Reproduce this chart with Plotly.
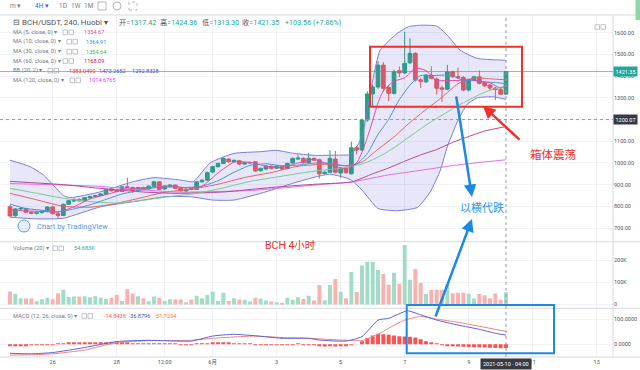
import plotly.graph_objects as go

# ---------------- data ----------------
candle_idx = list(range(94))
opens = [798, 757, 788, 790, 773, 768, 772, 778, 797, 766,
         758, 810, 825, 832, 825, 839, 845, 850, 856, 878,
         874, 869, 890, 887, 872, 886, 880, 893, 913, 880,
         892, 898, 884, 871, 882, 878, 913, 921, 958, 983,
         998, 1018, 1006, 1010, 995, 1000, 1005, 964, 972, 985,
         976, 985, 974, 1000, 1018, 1021, 1001, 1021, 1015, 951,
         957, 1018, 954, 975, 950, 1070, 1060, 1198, 1318, 1350,
         1451, 1348, 1321, 1425, 1415, 1462, 1505, 1383, 1374, 1405,
         1387, 1346, 1340, 1420, 1398, 1394, 1336, 1382, 1397, 1371,
         1359, 1345, 1338, 1317.42]
highs = [806, 792, 797, 794, 778, 776, 781, 801, 803, 770,
         813, 829, 836, 836, 843, 849, 853, 861, 881, 889,
         880, 893, 932, 891, 890, 891, 897, 918, 916, 897,
         902, 901, 888, 883, 886, 916, 926, 960, 987, 1002,
         1026, 1023, 1016, 1014, 1004, 1006, 1009, 980, 990, 989,
         990, 989, 1001, 1025, 1038, 1026, 1047, 1026, 1019, 962,
         1060, 1055, 980, 980, 1098, 1078, 1205, 1330, 1362, 1470,
         1465, 1360, 1430, 1445, 1605, 1575, 1510, 1392, 1410, 1445,
         1393, 1356, 1452, 1425, 1440, 1400, 1388, 1402, 1427, 1375,
         1364, 1352, 1350, 1424.36]
lows = [750, 752, 781, 770, 764, 762, 766, 774, 762, 745,
        755, 806, 820, 822, 821, 835, 841, 846, 852, 868,
        864, 866, 882, 862, 868, 874, 876, 890, 874, 876,
        888, 879, 868, 867, 874, 875, 909, 917, 954, 978,
        994, 1001, 1000, 990, 990, 996, 958, 960, 968, 970,
        972, 968, 970, 996, 1014, 997, 997, 1009, 928, 946,
        953, 952, 932, 950, 946, 1040, 1055, 1190, 1262, 1342,
        1330, 1285, 1315, 1395, 1410, 1455, 1375, 1345, 1368, 1385,
        1316, 1282, 1335, 1392, 1388, 1330, 1330, 1376, 1362, 1350,
        1336, 1290, 1312, 1313.30]
closes = [756, 788, 790, 773, 768, 772, 778, 797, 766, 758,
          809, 826, 832, 825, 840, 845, 850, 857, 878, 872,
          869, 890, 887, 872, 886, 878, 893, 913, 878, 893,
          898, 883, 872, 878, 878, 913, 920, 955, 983, 998,
          1021, 1006, 1012, 995, 1000, 1002, 963, 975, 986, 975,
          985, 972, 998, 1021, 1022, 1001, 1021, 1013, 950, 957,
          1021, 957, 975, 955, 1070, 1060, 1198, 1318, 1350, 1451,
          1344, 1321, 1420, 1415, 1459, 1505, 1382, 1377, 1405, 1390,
          1344, 1340, 1420, 1397, 1393, 1336, 1382, 1397, 1367, 1356,
          1345, 1338, 1317, 1421.35]
volumes_k = [59, 48, 28, 27, 27, 15, 24, 30, 24, 51,
             66, 34, 36, 36, 37, 33, 37, 31, 25, 31,
             44, 16, 69, 50, 37, 28, 15, 36, 30, 16,
             24, 22, 22, 10, 22, 40, 28, 44, 59, 16,
             53, 16, 28, 22, 21, 13, 30, 27, 18, 13,
             10, 7, 31, 21, 33, 25, 39, 18, 88, 19,
             88, 115, 57, 28, 147, 56, 176, 193, 193, 156,
             138, 89, 143, 94, 268, 112, 160, 97, 47, 65,
             66, 66, 92, 51, 53, 53, 48, 27, 47, 42,
             28, 50, 21, 54.683]
macd_hist = [-6, -6, -5, -5, -4, -4, -3, -2, -1, 1,
             4, 6, 7, 8, 8, 8, 8, 7, 7, 6,
             6, 5, 5, 4, 4, 3, 3, 3, 2, 2,
             1, 0.5, -0.5, -1, -1, 0.5, 2, 4, 5, 6,
             6, 5, 4, 3, 2, 1, -1, -2, -3, -3,
             -3, -3, -2, -1, 0.5, -1, -2, -4, -8, -9,
             -8, -9, -8, -8, -3, 0, 12, 25, 35, 42,
             40, 38, 35, 32, 31, 30, 27, 20, 12, 6,
             2, -3, -5, -7, -9, -10, -11, -12, -12, -13,
             -14, -15, -16, -14.84]

# indicator lines, read at key candles
ma5_x = [0, 3, 6, 9, 12, 15, 18, 21, 24, 27, 30, 33, 36, 39, 42, 45, 48, 51, 54, 57,
         60, 63, 65, 66, 67, 68, 69, 70, 72, 74, 76, 78, 80, 82, 84, 86, 88, 90, 92, 93]
ma5_y = [785, 779, 777, 773, 798, 834, 854, 874, 883, 888, 895, 885, 893, 954, 1004, 1003, 985, 979, 1000, 1016,
         992, 973, 1000, 1050, 1117, 1195, 1277, 1332, 1377, 1392, 1437, 1426, 1380, 1380, 1380, 1386, 1375, 1369, 1345, 1354.67]
ma10_x = [0, 3, 6, 9, 12, 15, 18, 21, 24, 27, 30, 33, 36, 39, 42, 45, 48, 51, 54, 57,
          60, 63, 65, 67, 69, 71, 73, 75, 77, 79, 81, 83, 85, 87, 89, 91, 93]
ma10_y = [810, 790, 782, 775, 788, 807, 832, 857, 872, 885, 889, 887, 893, 918, 957, 989, 996, 987, 990, 999,
          998, 987, 995, 1043, 1132, 1201, 1292, 1359, 1403, 1402, 1405, 1402, 1379, 1381, 1374, 1371, 1364.91]
ma30_x = [0, 5, 10, 15, 20, 25, 30, 35, 40, 45, 50, 55, 58, 62, 64, 66, 68, 70, 72, 74,
          76, 78, 80, 82, 84, 86, 88, 90, 93]
ma30_y = [883, 860, 837, 822, 815, 828, 845, 860, 885, 915, 935, 955, 965, 975, 985, 995, 1015, 1040, 1070, 1105,
          1140, 1175, 1205, 1235, 1265, 1290, 1315, 1335, 1354.64]
ma60_x = [0, 10, 16, 25, 31, 40, 46, 52, 58, 64, 68, 71, 74, 77, 80, 83, 86, 89, 93]
ma60_y = [915, 900, 885, 866, 860, 866, 880, 893, 903, 912, 950, 977, 1008, 1037, 1062, 1095, 1122, 1147, 1168.09]
ma120_x = [0, 16, 31, 45, 58, 64, 71, 77, 83, 88, 93]
ma120_y = [905, 893, 866, 873, 900, 912, 945, 966, 988, 1002, 1014.68]
bb_basis_x = [0, 5, 10, 15, 19, 24, 29, 34, 39, 44, 49, 54, 59, 63, 66, 69, 72, 75, 78, 81, 84, 87, 90, 93]
bb_basis = [860, 830, 800, 796, 809, 836, 865, 879, 902, 933, 956, 985, 994, 987, 1004, 1063, 1120, 1187, 1246,
            1303, 1365, 1392, 1388, 1383.05]
bb_upper_x = [0, 3.75, 6.3, 8.1, 10, 11.3, 17, 23, 27, 32, 34.4, 37.5, 42, 47, 50, 53, 57, 61, 64,
              66, 67, 68, 69.4, 72.6, 74.7, 77, 80, 82, 84.4, 87.6, 93]
bb_upper = [1013, 983, 944, 898, 850, 840, 867, 913, 932, 921, 914, 1000, 1044, 1052, 1058, 1045, 1035, 1036, 1040,
            1120, 1250, 1380, 1520, 1597, 1628, 1635, 1631, 1589, 1520, 1482, 1473.27]
bb_lower_x = [0, 5, 10, 17, 23, 29, 34, 38, 42, 48, 53, 57.5, 60, 63.8, 66, 69, 72.6, 76.4, 78.8,
              80.7, 82, 84, 85.7, 87.6, 90.6, 93]
bb_lower = [750, 742, 745, 798, 821, 844, 844, 829, 829, 867, 906, 937, 948, 924, 875, 790, 780, 795, 867,
            967, 1075, 1197, 1270, 1300, 1305, 1292.83]
macd_x = [0, 4, 8, 14, 20, 26, 34, 38, 42, 46, 51, 56, 58, 63, 66, 69, 71, 74.5, 77, 80, 84, 88, 91, 93]
macd_line = [-36, -38, -33, -13, 11, 16, 13, 33, 40, 34, 24, 24, 17, 13, 31, 97, 104, 134, 118, 97, 77, 60, 44, 36.88]
signal_x = [0, 4, 8, 14, 20, 26, 34, 38, 46, 51, 56, 63, 66, 69, 71, 74, 77, 80, 84, 88, 93]
signal_line = [-43, -42, -38, -23, 7, 14, 16, 24, 33, 27, 24, 16, 15, 40, 64, 97, 111, 101, 88, 72, 51.72]

x_tick_vals = [8, 20, 29, 38, 50, 62, 74, 86, 98, 110]
x_tick_text = ["26", "28", "12:00", "6月", "3", "5", "7", "9", "11", "13"]
price_ticks = [700, 800, 900, 1000, 1100, 1200, 1300, 1400, 1500, 1600]
last_price = 1421.35
cross_price = 1200.07
cross_idx = 93

# ---------------- geometry helpers ----------------
W, H = 640, 370
ML, MR, MT, MB = 0, 27, 15, 13
PW = W - ML - MR
PH = H - MT - MB


def fx(X):
    return (X - ML) / PW


def fy(Y):
    return (H - MB - Y) / PH


MAIN_BOTTOM = fy(241.7)
VOL_BOTTOM = fy(308.3)

UP = '#26A17B'
DOWN = '#EF5350'
C_MA5 = '#E64AA0'
C_MA10 = '#4A90E2'
C_MA30 = '#7CC98A'
C_MA60 = '#B5479A'
C_MA120 = '#E070E8'
C_BB = '#7C7CD8'
C_BASIS = '#E06666'

fig = go.Figure()


def line(xs, ys, color, yaxis='y', width=1, **kw):
    return go.Scatter(x=xs, y=ys, mode='lines', yaxis=yaxis, hoverinfo='skip',
                      line=dict(color=color, width=width, shape='spline', smoothing=0.5), **kw)


fig.add_trace(line(bb_upper_x, bb_upper, C_BB))
fig.add_trace(line(bb_lower_x, bb_lower, C_BB, fill='tonexty', fillcolor='rgba(110,110,220,0.17)'))
fig.add_trace(line(bb_basis_x, bb_basis, C_BASIS))
fig.add_trace(line(ma120_x, ma120_y, C_MA120))
fig.add_trace(line(ma60_x, ma60_y, C_MA60))
fig.add_trace(line(ma30_x, ma30_y, C_MA30))
fig.add_trace(line(ma10_x, ma10_y, C_MA10))
fig.add_trace(line(ma5_x, ma5_y, C_MA5))

fig.add_trace(go.Candlestick(
    x=candle_idx, open=opens, high=highs, low=lows, close=closes,
    increasing=dict(line=dict(color=UP, width=1), fillcolor=UP),
    decreasing=dict(line=dict(color=DOWN, width=1), fillcolor=DOWN),
    hoverinfo='skip'))

vol_colors = ['#A3DCC6' if c >= o else '#F8B2B0' for o, c in zip(opens, closes)]
fig.add_trace(go.Bar(x=candle_idx, y=[v * 1000 for v in volumes_k], yaxis='y2',
                     marker=dict(color=vol_colors, line=dict(width=0)), width=0.74, hoverinfo='skip'))

fig.add_trace(go.Bar(x=candle_idx, y=macd_hist, yaxis='y3',
                     marker=dict(color='#FF5050', line=dict(width=0)), width=0.74, hoverinfo='skip'))
fig.add_trace(line(signal_x, signal_line, '#F0857E', yaxis='y3'))
fig.add_trace(line(macd_x, macd_line, '#5B63D8', yaxis='y3'))

GRID = '#F1F2F6'
AXFONT = dict(size=5.5, color='#50535E')
common_y = dict(side='right', anchor='x', zeroline=False, ticks='', ticklen=0, showgrid=True,
                gridcolor=GRID, tickfont=AXFONT, fixedrange=True)

fig.update_layout(
    width=W, height=H, margin=dict(l=ML, r=MR, t=MT, b=MB, pad=0),
    paper_bgcolor='white', plot_bgcolor='white', showlegend=False,
    font=dict(family='Roboto, "Noto Sans CJK SC", sans-serif', size=6, color='#50535E'),
    barmode='overlay', boxgap=0.3, boxgroupgap=0,
    xaxis=dict(range=[-1.875, 113.06], tickvals=x_tick_vals, ticktext=x_tick_text,
               showgrid=True, gridcolor=GRID, zeroline=False, showline=False, ticks='', ticklen=0,
               rangeslider=dict(visible=False), anchor='y3', tickfont=AXFONT, fixedrange=True),
    yaxis=dict(domain=[MAIN_BOTTOM, 1], range=[637, 1682], tickvals=price_ticks, tickformat='.2f',
               **common_y),
    yaxis2=dict(domain=[VOL_BOTTOM, MAIN_BOTTOM], range=[-17100, 283000],
                tickvals=[0, 100000, 200000], ticktext=['0', '100K', '200K'], **common_y),
    yaxis3=dict(domain=[0, VOL_BOTTOM], range=[-50.8, 144], tickvals=[0, 100], tickformat='.4f',
                **common_y),
)

shapes = []
SEP = '#D6D9E0'
ICON = '#B2B5BE'
# pane separators and borders
for Y in (15, 241.7, 308.3, 357):
    shapes.append(dict(type='line', xref='paper', yref='paper', x0=0, x1=fx(W), y0=fy(Y), y1=fy(Y),
                       line=dict(color=SEP, width=1)))
shapes.append(dict(type='line', xref='paper', yref='paper', x0=1, x1=1, y0=0, y1=1,
                   line=dict(color=SEP, width=1)))
# last price line and crosshair
shapes.append(dict(type='line', xref='paper', yref='y', x0=0, x1=1, y0=last_price, y1=last_price,
                   line=dict(color='rgba(38,166,154,0.65)', width=1)))
shapes.append(dict(type='line', xref='paper', yref='y', x0=0, x1=1, y0=cross_price, y1=cross_price,
                   line=dict(color='#9598A1', width=1, dash='3px,3px')))
shapes.append(dict(type='line', xref='x', yref='paper', x0=cross_idx, x1=cross_idx, y0=0, y1=1,
                   line=dict(color='#9598A1', width=1, dash='3px,3px')))
# annotation boxes
shapes.append(dict(type='rect', xref='paper', yref='paper', x0=fx(370), x1=fx(522), y0=fy(106.7), y1=fy(46.7),
                   line=dict(color='#F0302C', width=2)))
shapes.append(dict(type='rect', xref='paper', yref='paper', x0=fx(406.7), x1=fx(554), y0=fy(353.3), y1=fy(305),
                   line=dict(color='#1E88E5', width=2)))
# scroll indicator top right
shapes.append(dict(type='rect', xref='paper', yref='paper', x0=fx(635.5), x1=fx(640), y0=fy(20), y1=fy(0),
                   line=dict(width=0), fillcolor='#8ED6A6'))
# toolbar icons
shapes.append(dict(type='rect', xref='paper', yref='paper', x0=fx(98), x1=fx(106), y0=fy(10), y1=fy(2),
                   line=dict(color=ICON, width=1)))
shapes.append(dict(type='circle', xref='paper', yref='paper', x0=fx(113), x1=fx(121), y0=fy(10), y1=fy(2),
                   line=dict(color=ICON, width=1)))
shapes.append(dict(type='rect', xref='paper', yref='paper', x0=fx(129), x1=fx(137), y0=fy(10), y1=fy(2),
                   line=dict(color=ICON, width=1, dash='dot')))
# small legend icon boxes
for (ix, iy) in [(63, 32.3), (67, 41.7), (67, 51.7), (63, 61), (48, 70.7), (70, 80.3), (53, 248.3), (82, 316),
                 (595, 27)]:
    for k in (0, 6):
        shapes.append(dict(type='rect', xref='paper', yref='paper', x0=fx(ix + k), x1=fx(ix + k + 4.5),
                           y0=fy(iy + 2.3), y1=fy(iy - 2.3), line=dict(color=ICON, width=0.8)))
# TradingView logo stub
shapes.append(dict(type='circle', xref='paper', yref='paper', x0=fx(18), x1=fx(30), y0=fy(232), y1=fy(220),
                   line=dict(color='#5B9BE0', width=1), fillcolor='rgba(91,155,224,0.15)'))
fig.update_layout(shapes=shapes)

ann = []


def txt(text, X, Y, color='#787B86', size=5.8, anchor='left', **kw):
    d = dict(text=text, xref='paper', yref='paper', x=fx(X), y=fy(Y), xanchor=anchor, yanchor='middle',
             showarrow=False, font=dict(size=size, color=color))
    d.update(kw)
    return d


# toolbar
ann += [txt('m ▾', 8, 6, size=6.5), txt('4H ▾', 33, 6, color='#2962FF', size=6.5), txt('1D', 57, 6, size=6.5),
        txt('1W', 69, 6, size=6.5), txt('1M', 82, 6, size=6.5)]
# main legend
LG = 7.2
ann += [txt('⊟ BCH/USDT, 240, Huobi ▾', 11, 22.7, color='#50535E', size=8),
        txt('开<span style="color:#26A69A">=1317.42</span>', 117, 22.7, color='#50535E', size=LG),
        txt('高<span style="color:#26A69A">=1424.36</span>', 158, 22.7, color='#50535E', size=LG),
        txt('低<span style="color:#26A69A">=1313.30</span>', 200, 22.7, color='#50535E', size=LG),
        txt('收<span style="color:#26A69A">=1421.35</span>', 240, 22.7, color='#50535E', size=LG),
        txt('+103.56 (+7.86%)', 283, 22.7, color='#26A69A', size=LG)]
VS = 5.6
rows = [('MA (5, close, 0) ▾', 32.3, [('1354.67', 82, C_MA5)]),
        ('MA (10, close, 0) ▾', 41.7, [('1364.91', 84, '#2196F3')]),
        ('MA (30, close, 0) ▾', 51.7, [('1354.64', 84, '#43B45A')]),
        ('MA (60, close, 0) ▾', 61, [('1168.09', 82, '#C2185B')]),
        ('BB (20, 2) ▾', 70.7, [('1383.0490', 67, '#F23645'), ('1473.2652', 97, '#3F51C5'),
                                ('1292.8328', 130, '#3F51C5')]),
        ('MA (120, close, 0) ▾', 80.3, [('1014.6765', 87, '#E040FB')])]
for label, Y, vals in rows:
    ann.append(txt(label, 11, Y))
    for v, X, c in vals:
        ann.append(txt(v, X, Y, color=c, size=VS))
ann += [txt('Volume (20) ▾', 11, 248.3), txt('54.683K', 72, 248.3, color='#26A69A', size=VS),
        txt('MACD (12, 26, close, 9) ▾', 11, 316), txt('-14.8438', 102, 316, color='#FF5252', size=VS),
        txt('36.8796', 128, 316, color='#3F51C5', size=VS), txt('51.7234', 154, 316, color='#FF6D3A', size=VS)]
ann.append(txt('Chart by TradingView', 35, 226, color='#5B9BE0', size=7.5))
# axis value labels
ann.append(dict(text='1421.35', xref='paper', yref='y', x=1, y=last_price, xanchor='left', yanchor='middle',
                showarrow=False, bgcolor='#26A69A', borderpad=1.5, font=dict(size=5.5, color='white')))
ann.append(dict(text='1200.07', xref='paper', yref='y', x=1, y=cross_price, xanchor='left', yanchor='middle',
                showarrow=False, bgcolor='#363A45', borderpad=1.5, font=dict(size=5.5, color='white')))
ann.append(dict(text='2021-05-10 · 04:00', xref='x', yref='paper', x=cross_idx, y=fy(363.5), xanchor='center',
                yanchor='middle', showarrow=False, bgcolor='#363A45', borderpad=2, font=dict(size=5.5, color='white')))
# hand-drawn notes
ann += [txt('箱体震荡', 553, 154.5, color='#F0302C', size=11.5, anchor='center'),
        txt('以横代跌', 481.5, 207.5, color='#2196F3', size=11, anchor='center'),
        txt('BCH 4小时', 290, 245, color='#F0302C', size=10.5, anchor='center')]


def arrow(tip, tail, color, width):
    return dict(text='', xref='paper', yref='paper', x=fx(tip[0]), y=fy(tip[1]),
                ax=tail[0] - tip[0], ay=tail[1] - tip[1], axref='pixel', ayref='pixel',
                showarrow=True, arrowhead=2, arrowsize=1, arrowwidth=width, arrowcolor=color,
                standoff=0, startstandoff=0)


ann += [arrow((483, 106), (521, 141), '#F0302C', 2.5),
        arrow((472, 197), (456, 95), '#1E88E5', 2.5),
        arrow((472, 219), (435, 318), '#1E88E5', 2.5)]
fig.update_layout(annotations=ann)

fig.write_html("out.html", config={'displayModeBar': False},
               post_script="document.body.style.margin='0';document.body.style.overflow='hidden';")
